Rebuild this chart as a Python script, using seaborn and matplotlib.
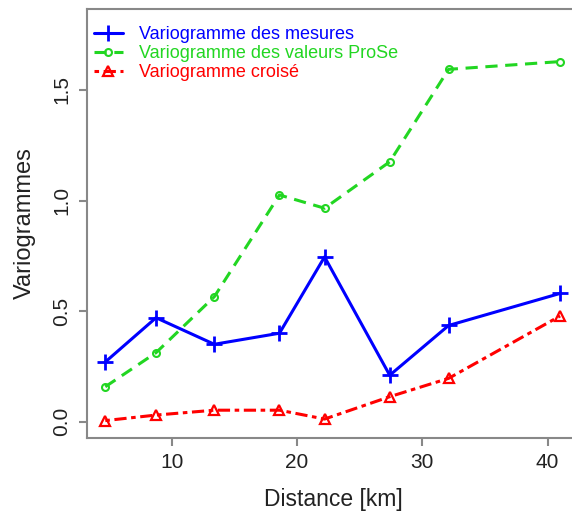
import matplotlib
matplotlib.use("Agg")
import matplotlib.pyplot as plt
import seaborn as sns
import pandas as pd

distance = [4.7, 8.75, 13.4, 18.6, 22.2, 27.4, 32.1, 41.0]
mesures = [0.27, 0.47, 0.35, 0.40, 0.745, 0.21, 0.435, 0.58]
prose = [0.158, 0.312, 0.565, 1.025, 0.965, 1.175, 1.593, 1.628]
croise = [0.005, 0.03, 0.052, 0.052, 0.012, 0.113, 0.196, 0.478]
labels = ["Variogramme des mesures", "Variogramme des valeurs ProSe", "Variogramme croisé"]

sns.set_style("white")
plt.rcParams['font.family'] = ['Liberation Sans', 'DejaVu Sans']

fig = plt.figure(figsize=(5.72, 5.13), dpi=100)
ax = fig.add_axes([86.7/572, (513-438)/513, (580-86.7)/572, (438-8.5)/513])

df = pd.DataFrame({"d": distance, "m": mesures, "p": prose, "c": croise})

sns.lineplot(data=df, x="d", y="m", ax=ax, color="#0000FF", lw=2.2,
             marker="+", markersize=11, markeredgewidth=2, markeredgecolor="#0000FF",
             label=labels[0])
sns.lineplot(data=df, x="d", y="p", ax=ax, color="#22D622", lw=2.2,
             linestyle=(0, (4, 2.5)), marker="o", markersize=5, markerfacecolor="none",
             markeredgewidth=1.5, markeredgecolor="#22D622", label=labels[1])
sns.lineplot(data=df, x="d", y="c", ax=ax, color="#FF0000", lw=2.2,
             linestyle=(0, (1.5, 1.5, 4, 1.5)), marker="^", markersize=7, markerfacecolor="none",
             markeredgewidth=1.6, markeredgecolor="#FF0000", label=labels[2])

ax.set_xlim((86.7-46.4)/12.53, (580-46.4)/12.53)
ax.set_ylim((421.7-438)/221.2, (421.7-8.5)/221.2)
ax.set_xticks([10, 20, 30, 40])
ax.set_yticks([0.0, 0.5, 1.0, 1.5])
ax.set_yticklabels(["0.0", "0.5", "1.0", "1.5"], rotation=90, va="center")
ax.set_xlabel("Distance [km]", fontsize=16.5, color="#222222", labelpad=11)
ax.set_ylabel("Variogrammes", fontsize=17, color="#222222", labelpad=12)
for s in ax.spines.values():
    s.set_color("#888888")
    s.set_linewidth(1.5)
ax.tick_params(axis="both", which="both", direction="out", length=6, width=1.5,
               color="#888888", labelsize=15, labelcolor="#222222", pad=5,
               bottom=True, left=True)

leg = ax.legend(loc="upper left", frameon=False, fontsize=13, handlelength=1.6,
                handletextpad=0.9, borderaxespad=0.0, labelspacing=0.1,
                bbox_to_anchor=(0.0, 0.975))
for t, c in zip(leg.get_texts(), ["#0000FF", "#22D622", "#FF0000"]):
    t.set_color(c)

fig.savefig("out.png", dpi=100)
